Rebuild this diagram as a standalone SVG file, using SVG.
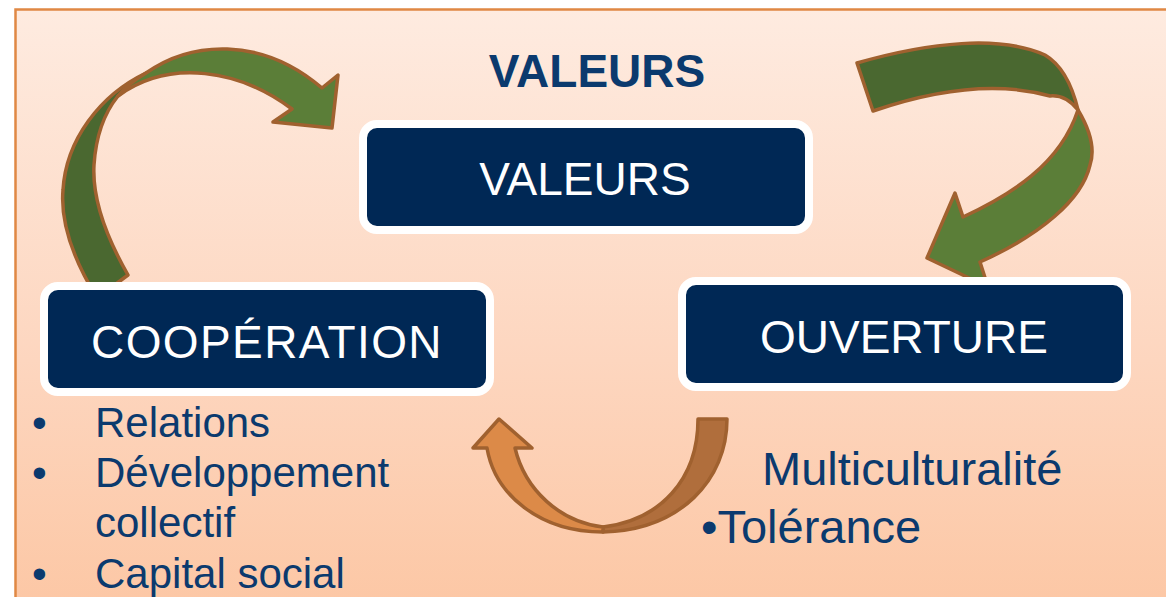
<svg xmlns="http://www.w3.org/2000/svg" width="1166" height="597" viewBox="0 0 1166 597">
<defs>
<linearGradient id="bg" x1="0" y1="0" x2="0" y2="1">
<stop offset="0" stop-color="#feebe0"/>
<stop offset="0.5" stop-color="#fdd6bf"/>
<stop offset="1" stop-color="#fcc19a"/>
</linearGradient>
</defs>
<style>
.box{fill:#002855;stroke:#ffffff;stroke-width:8}
.boxtxt{font-family:"Liberation Sans",Arial,sans-serif;font-size:46px;fill:#ffffff;text-anchor:middle}
.title{font-family:"Liberation Sans",Arial,sans-serif;font-size:46px;font-weight:bold;fill:#0b3a6e;text-anchor:middle}
.body{font-family:"Liberation Sans",Arial,sans-serif;font-size:42px;fill:#0b3a6e}
.body2{font-family:"Liberation Sans",Arial,sans-serif;font-size:47px;fill:#0b3a6e}
.arr{stroke:#a0612f;stroke-width:3.5;stroke-linejoin:round}
.gdark{fill:#4a6830}
.glight{fill:#5b7e38}
.odark{fill:#b06e3c}
.olight{fill:#dc8a48}
</style>
<rect x="0" y="0" width="1166" height="597" fill="#ffffff"/>
<rect x="15.5" y="9.5" width="1200" height="700" fill="url(#bg)" stroke="#e08844" stroke-width="2.5"/>

<text class="title" x="597" y="87">VALEURS</text>

<g id="connectors">
<g id="arrow-cooperation-valeurs">
<path class="arr gdark" d="M146,73 C100,95 66,140 63,190 C60,225 75,262 97,298 L128,275 C108,240 92,200 94,165 C96,135 105,112 118,96 Z"/>
<path class="arr glight" d="M146,73 C190,42 260,35 322,88 L338,75 L332,128 L273,122 L292,109 C240,70 170,58 118,96 C126,86 136,79 146,73 Z"/>
</g>
<g id="arrow-valeurs-ouverture">
<path class="arr gdark" d="M857,63 C930,42 1000,35 1045,55 C1062,65 1072,85 1078,110 C1070,100 1060,95 1050,96 C1000,82 940,88 873,111 Z"/>
<path class="arr glight" d="M1078,110 C1090,130 1095,150 1090,165 C1082,200 1040,235 980,262 L988,287 L927,258 L955,193 L963,217 C1010,195 1060,165 1078,110 Z"/>
</g>
<g id="arrow-ouverture-cooperation">
<path class="arr odark" d="M698,419 L727,419 C727,480 680,530 603,532 L603,527 C660,520 698,480 698,419 Z"/>
<path class="arr olight" d="M603,532 C540,532 495,495 487,448 L473,448 L499,419 L532,448 L515,448 C525,490 560,522 603,527 Z"/>
</g>
</g>

<g id="node-valeurs">
<rect class="box" x="363" y="124" width="446" height="106" rx="14"/>
<text class="boxtxt" x="585" y="195">VALEURS</text>
</g>
<g id="node-cooperation">
<rect class="box" x="44" y="286" width="446" height="106" rx="14"/>
<text class="boxtxt" x="267" y="358" letter-spacing="1.4">COOPÉRATION</text>
</g>
<g id="node-ouverture">
<rect class="box" x="682" y="281" width="445" height="106" rx="14"/>
<text class="boxtxt" x="904" y="353">OUVERTURE</text>
</g>

<g id="list-cooperation">
<text class="body" x="32" y="437">•</text>
<text class="body" x="95" y="437">Relations</text>
<text class="body" x="32" y="487">•</text>
<text class="body" x="95" y="487">Développement</text>
<text class="body" x="95" y="537">collectif</text>
<text class="body" x="32" y="588">•</text>
<text class="body" x="95" y="588">Capital social</text>
</g>
<g id="list-ouverture">
<text class="body2" x="762" y="485">Multiculturalité</text>
<text class="body2" x="701" y="543">•Tolérance</text>
</g>
</svg>
